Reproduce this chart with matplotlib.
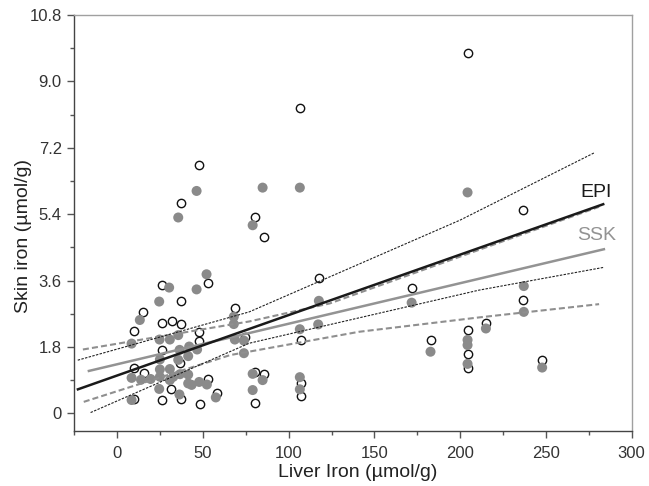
import matplotlib
matplotlib.use("Agg")
import matplotlib.pyplot as plt
import numpy as np

plt.rcParams['font.family'] = ['Liberation Sans', 'DejaVu Sans']

# EPI (open circles)
epi_x = [204.3, 106.5, 47.8, 37.0, 80.3, 85.5, 236.7, 117.8, 172.0, 236.7,
         215.0, 182.7, 204.3, 204.3, 204.3, 247.8, 107.1, 106.9, 106.9, 80.3,
         85.5, 80.3, 74.5, 68.6,
         53.1, 25.9, 37.0, 15.2, 9.7, 25.9, 31.7, 37.0, 47.8, 47.8,
         26.0, 36.6, 9.7, 15.4, 52.8, 31.5, 37.2, 26.2, 9.7, 48.0, 58.3]
epi_y = [9.76, 8.27, 6.73, 5.71, 5.31, 4.77, 5.51, 3.66, 3.41, 3.07,
         2.46, 1.99, 2.26, 1.60, 1.22, 1.44, 1.99, 0.81, 0.47, 1.13,
         1.07, 0.27, 2.08, 2.85,
         3.52, 3.48, 3.05, 2.75, 2.23, 2.46, 2.51, 2.42, 2.21, 1.97,
         1.72, 1.36, 1.22, 1.10, 0.92, 0.65, 0.40, 0.37, 0.40, 0.24, 0.55]

# SSK (filled grey circles)
ssk_x = [204.3, 171.7, 237.1, 237.1, 215.0, 182.7, 204.3, 204.3, 204.3, 247.8,
         46.3, 35.6, 84.8, 106.5, 79.0, 117.6, 117.2, 106.5, 106.5, 106.5,
         68.6, 73.9, 73.9, 79.0, 84.8, 79.0, 68.0, 68.0,
         52.1, 30.3, 46.3, 24.5, 13.2, 8.4, 24.7, 30.7, 35.6, 36.4,
         42.0, 46.6, 24.9, 35.6, 41.4, 30.7, 24.9, 8.4, 13.9, 19.5,
         24.9, 30.7, 32.7, 36.6, 41.4, 41.4, 43.4, 47.8, 52.3, 24.5,
         36.3, 8.4, 57.5]
ssk_y = [5.99, 3.00, 3.45, 2.75, 2.30, 1.67, 1.99, 1.85, 1.34, 1.24,
         6.03, 5.31, 6.12, 6.12, 5.10, 3.05, 2.41, 2.28, 0.98, 0.65,
         2.00, 1.97, 1.63, 1.07, 0.90, 0.63, 2.62, 2.42,
         3.77, 3.41, 3.36, 3.03, 2.53, 1.89, 2.00, 2.00, 2.12, 1.72,
         1.81, 1.73, 1.46, 1.45, 1.55, 1.20, 1.19, 0.96, 0.91, 0.93,
         0.99, 0.90, 0.99, 1.06, 1.05, 0.81, 0.77, 0.85, 0.78, 0.66,
         0.51, 0.36, 0.43]

# regression lines (intercept, slope, x-range)
epi_fit = (1.025, 0.01639, -22.9, 283.4)
ssk_fit = (1.33, 0.01099, -16.5, 283.8)

# confidence bands
epi_up_x = [-23, 77, 200, 278]
epi_up_y = [1.44, 2.75, 5.24, 7.06]
epi_lo_x = [-15.5, 77, 211, 284]
epi_lo_y = [0.02, 1.90, 3.34, 3.96]
ssk_up_x = [-20, 77, 124, 200, 281]
ssk_up_y = [1.73, 2.49, 2.98, 4.25, 5.60]
ssk_lo_x = [-19.5, 66, 141, 211, 281]
ssk_lo_y = [0.31, 1.58, 2.21, 2.60, 2.96]

fig = plt.figure(figsize=(6.49, 4.86), dpi=100)
ax = fig.add_axes([0.1145, 0.1132, 0.8588, 0.8558])

ax.scatter(epi_x, epi_y, s=36, facecolor='white', edgecolor='#111111',
           linewidth=1.0, zorder=2)
ax.scatter(ssk_x, ssk_y, s=52, facecolor='#8a8a8a', edgecolor='none', zorder=3)

ax.plot(ssk_up_x, ssk_up_y, color='#8f8f8f', lw=1.5, dashes=[2.9, 1.5], zorder=4)
ax.plot(ssk_lo_x, ssk_lo_y, color='#8f8f8f', lw=1.5, dashes=[2.9, 1.5], zorder=4)
ax.plot(epi_up_x, epi_up_y, color='#222222', lw=0.8, dashes=[2.2, 1.2], zorder=5)
ax.plot(epi_lo_x, epi_lo_y, color='#222222', lw=0.8, dashes=[2.2, 1.2], zorder=5)

for (a, b, x0, x1), col in [(ssk_fit, '#939393'), (epi_fit, '#1a1a1a')]:
    xs = np.array([x0, x1])
    ax.plot(xs, a + b * xs, color=col, lw=1.8, zorder=6)

ax.text(269.8, 5.87, 'EPI', fontsize=14, color='#1a1a1a')
ax.text(268, 4.70, 'SSK', fontsize=14, color='#939393')

ax.set_xlim(-25, 300)
ax.set_ylim(-0.48, 10.8)
ax.set_xticks([0, 50, 100, 150, 200, 250, 300])
ax.set_xticks(np.arange(-25, 300, 25), minor=True)
ax.set_yticks([0, 1.8, 3.6, 5.4, 7.2, 9.0, 10.8])
ax.set_yticklabels(['0', '1.8', '3.6', '5.4', '7.2', '9.0', '10.8'])
ax.set_yticks(np.arange(0, 10.8, 0.9), minor=True)

ax.tick_params(which='major', length=5, width=1, color='#555555',
               labelsize=12, labelcolor='#333333')
ax.tick_params(which='minor', length=3, width=1, color='#555555')
ax.tick_params(axis='x', which='major', pad=6)
ax.tick_params(axis='y', which='major', pad=4)

for side in ['left', 'bottom']:
    ax.spines[side].set_color('#444444')
    ax.spines[side].set_linewidth(1.0)
for side in ['top', 'right']:
    ax.spines[side].set_color('#a0a0a0')
    ax.spines[side].set_linewidth(1.0)

ax.set_xlabel('Liver Iron (\u00b5mol/g)', fontsize=14, color='#222222')
ax.set_ylabel('Skin iron (\u00b5mol/g)', fontsize=14, color='#222222')
ax.xaxis.set_label_coords(0.508, -0.080)
ax.yaxis.set_label_coords(-0.076, 0.47)

fig.savefig('out.png', dpi=100)
